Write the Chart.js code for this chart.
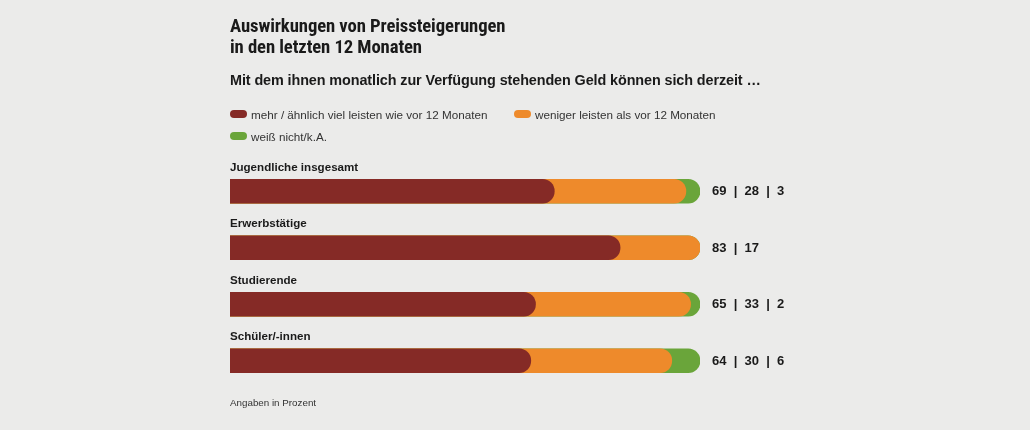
<!DOCTYPE html>
<html><head><meta charset="utf-8">
<script src="https://cdn.jsdelivr.net/npm/chart.js@4"></script>
<style>
html,body{margin:0;padding:0;background:#ebebea;width:1030px;height:430px;overflow:hidden;font-family:"Open Sans",sans-serif;color:#1a1a1a}
#wrap{position:relative;width:1030px;height:430px}
canvas{position:absolute;left:0;top:0}
.t{position:absolute;left:230px;white-space:nowrap}
#title{top:16px;font-family:"Liberation Sans Narrow","Roboto Condensed",sans-serif;font-weight:bold;font-size:18.7px;line-height:21px;letter-spacing:-0.1px}
#sub{top:72px;font-family:"Liberation Sans","Open Sans",sans-serif;font-weight:bold;font-size:14.4px;letter-spacing:-0.1px}
.leg{position:absolute;font-size:11.7px;font-family:"Liberation Sans",sans-serif;color:#333;white-space:nowrap}
.sw{display:inline-block;width:17px;height:8px;border-radius:4px;margin-right:4px;vertical-align:1px}
#foot{top:397px;font-size:9.8px;font-family:"Liberation Sans",sans-serif;color:#333}
</style></head>
<body><div id="wrap">
<canvas id="c" width="1030" height="430"></canvas>
<div class="t" id="title">Auswirkungen von Preissteigerungen<br>in den letzten 12 Monaten</div>
<div class="t" id="sub">Mit dem ihnen monatlich zur Verfügung stehenden Geld können sich derzeit …</div>
<div id="legend"></div>
<div class="t" id="foot">Angaben in Prozent</div>
</div>
<script>
const categories = ["Jugendliche insgesamt", "Erwerbstätige", "Studierende", "Schüler/-innen"];
const seriesNames = ["mehr / ähnlich viel leisten wie vor 12 Monaten", "weniger leisten als vor 12 Monaten", "weiß nicht/k.A."];
const mehr = [69, 83, 65, 64];
const weniger = [28, 17, 33, 30];
const weissNicht = [3, 0, 2, 6];
const colors = ["#852a26", "#ee8a2b", "#6aa53a"];

// legend (HTML)
const legPos = [[230,108],[514,108],[230,130]];
const legend = document.getElementById('legend');
seriesNames.forEach((n,i)=>{
  const d=document.createElement('div');d.className='leg';
  d.style.left=legPos[i][0]+'px';d.style.top=legPos[i][1]+'px';
  d.innerHTML='<span class="sw" style="background:'+colors[i]+'"></span>'+n;
  legend.appendChild(d);
});

const series = [mehr, weniger, weissNicht];
// cumulative ends so that rounded segments overlap the next one
const cum = series.map((s,k)=>s.map((v,i)=>series.slice(0,k+1).reduce((a,ss)=>a+ss[i],0)));

const labelsPlugin = {
  id:'labels',
  afterDatasetsDraw(chart){
    const ctx=chart.ctx;
    const meta=chart.getDatasetMeta(0);
    const x0=chart.scales.x.getPixelForValue(0);
    const xEnd=chart.scales.x.getPixelForValue(100);
    ctx.save();
    ctx.fillStyle='#1a1a1a';
    meta.data.forEach((bar,i)=>{
      ctx.font='bold 11.6px "Liberation Sans", sans-serif';
      ctx.textAlign='left';ctx.textBaseline='middle';
      ctx.fillText(categories[i], x0, bar.y-23.5);
      const vals=series.map(s=>s[i]).filter(v=>v>0);
      ctx.font='bold 13px "Liberation Sans", sans-serif';
      ctx.fillText(vals.join('  |  '), xEnd+12, bar.y+0.5);
    });
    ctx.restore();
  }
};

new Chart(document.getElementById('c'),{
  type:'bar',
  data:{labels:categories,datasets:[2,1,0].map(k=>({
    label:seriesNames[k],data:cum[k],backgroundColor:colors[k],
    borderRadius:12,borderSkipped:'start',barThickness:24,grouped:false,order:k
  }))},
  options:{
    indexAxis:'y',responsive:false,animation:false,devicePixelRatio:1,
    layout:{padding:{left:230,right:330,top:163,bottom:41}},
    plugins:{legend:{display:false},tooltip:{enabled:false}},
    scales:{
      x:{display:false,min:0,max:100},
      y:{display:false}
    }
  },
  plugins:[labelsPlugin]
});
</script>
</body></html>
